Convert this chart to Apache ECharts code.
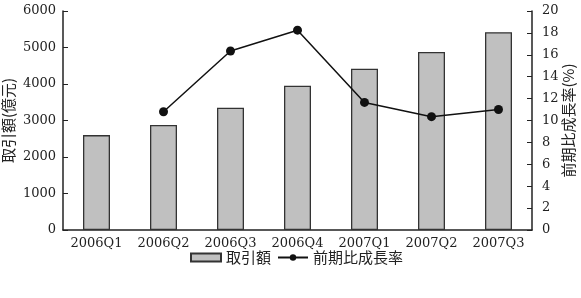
<!DOCTYPE html>
<html>
<head>
<meta charset="utf-8">
<script src="https://cdn.jsdelivr.net/npm/echarts@6/dist/echarts.min.js"></script>
<style>
html,body{margin:0;padding:0;background:#fff;}
#main{width:581px;height:298px;}
</style>
</head>
<body>
<div id="main"></div>
<script>
// データ
const quarters = ['2006Q1', '2006Q2', '2006Q3', '2006Q4', '2007Q1', '2007Q2', '2007Q3'];
const volume = [2600, 2880, 3350, 3955, 4420, 4880, 5420];
const growth = [null, 10.8, 16.35, 18.25, 11.65, 10.35, 11.0];

const serif = '"DejaVu Serif", "Liberation Serif", serif';
const cjk = '"Noto Sans CJK JP", "Noto Sans CJK SC", sans-serif';
const plain = v => String(v);

const myChart = echarts.init(document.getElementById('main'));
myChart.setOption({
  animation: false,
  grid: { left: 63, right: 49, top: 11, bottom: 68, outerBoundsMode: 'none', containLabel: false },
  legend: {
    bottom: 28,
    left: 185,
    itemWidth: 30,
    itemHeight: 8,
    itemGap: 6,
    textStyle: { fontFamily: cjk, fontSize: 15, color: '#222' },
    data: [
      { name: '取引額', icon: 'rect' },
      { name: '前期比成長率' }
    ]
  },
  xAxis: {
    type: 'category',
    data: quarters,
    axisLine: { lineStyle: { color: '#222', width: 1.5 } },
    axisTick: { inside: true, length: 5, lineStyle: { color: '#222' } },
    axisLabel: { fontFamily: serif, fontSize: 13, color: '#222', margin: 7, interval: 0, hideOverlap: false }
  },
  yAxis: [
    {
      type: 'value',
      min: 0, max: 6000, interval: 1000,
      name: '取引額(億元)',
      nameLocation: 'middle',
      nameRotate: 90,
      nameGap: 47,
      nameMoveOverlap: false,
      nameTextStyle: { fontFamily: cjk, fontSize: 15, color: '#222' },
      axisLine: { show: true, lineStyle: { color: '#222', width: 1.5 } },
      axisTick: { show: true, inside: true, length: 5, lineStyle: { color: '#222' } },
      axisLabel: { fontFamily: serif, fontSize: 13, color: '#222', margin: 7, formatter: plain },
      splitLine: { show: false }
    },
    {
      type: 'value',
      min: 0, max: 20, interval: 2,
      name: '前期比成長率(%)',
      nameLocation: 'middle',
      nameRotate: 90,
      nameGap: 29,
      nameMoveOverlap: false,
      nameTextStyle: { fontFamily: cjk, fontSize: 15, color: '#222' },
      axisLine: { show: true, lineStyle: { color: '#222', width: 1.5 } },
      axisTick: { show: true, inside: true, length: 5, lineStyle: { color: '#222' } },
      axisLabel: { fontFamily: serif, fontSize: 13, color: '#222', margin: 10, formatter: plain },
      splitLine: { show: false }
    }
  ],
  series: [
    {
      name: '取引額',
      type: 'bar',
      data: volume,
      barWidth: 27,
      itemStyle: { color: '#c0c0c0', borderColor: '#333', borderWidth: 1.3 }
    },
    {
      name: '前期比成長率',
      type: 'line',
      yAxisIndex: 1,
      data: growth,
      symbol: 'circle',
      symbolSize: 9,
      lineStyle: { color: '#111', width: 1.5 },
      itemStyle: { color: '#111' }
    }
  ]
});
</script>
</body>
</html>
